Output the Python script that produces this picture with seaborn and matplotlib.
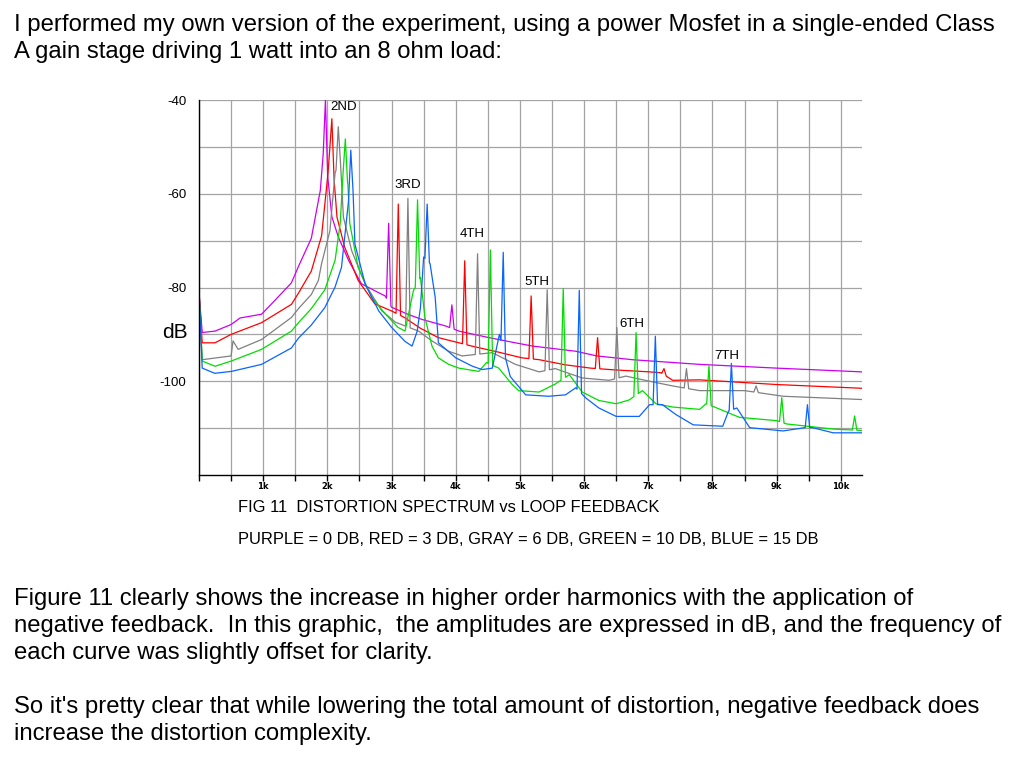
import numpy as np
import pandas as pd
import seaborn as sns
import matplotlib.pyplot as plt

# curves, in drawing order (0 dB feedback first, 15 dB last)
curve_names = ['PURPLE', 'RED', 'GRAY', 'GREEN', 'BLUE']
curve_colors = ['#cc00f0', '#ff0000', '#808080', '#00dd00', '#0a64ff']

# noise floor / skirt points (Hz, dB)
purple_floor_f = [0, 50, 250, 500, 640, 975, 1200, 1440, 1550, 1750, 1890, 1940,
                  2000, 2070, 2170, 2330, 2530, 2740, 2900, 3000, 3270, 3470, 3840,
                  4050, 4520, 4930, 5200, 5870, 6200, 6750, 7800, 9000, 10330]
purple_floor_db = [-81, -89.6, -89.3, -87.9, -86.5, -85.7, -82.5, -79.0, -75.5, -69.5, -59.3, -50.7,
                   -55.6, -64.9, -69.2, -74.2, -79.2, -80.7, -81.8, -84.2, -85.8, -86.8, -88.2,
                   -89.3, -90.7, -91.8, -92.5, -93.6, -94.6, -95.4, -96.4, -97.2, -98.0]
purple_peak_f = [1970, 2955, 3940]
purple_peak_db = [-40, -66.3, -83.7]

red_floor_f = [0, 50, 250, 500, 975, 1440, 1550, 1750, 1910, 2010, 2040,
               2090, 2150, 2270, 2480, 2740, 3000, 3200, 3450, 3730, 4050,
               4250, 4670, 5030, 5300, 5710, 6100, 6500, 7020, 7200, 7380,
               7800, 9000, 10330]
red_floor_db = [-81, -91.8, -91.8, -90.0, -87.5, -83.6, -81.2, -76.5, -69.0, -55.6, -50.0,
                -54.3, -65.0, -71.4, -78.5, -83.5, -85.0, -86.4, -88.7, -90.7, -91.8,
                -92.5, -93.8, -95.0, -95.4, -96.5, -97.2, -97.6, -98.0, -98.2, -99.8,
                -99.7, -100.7, -101.5]
red_peak_f = [2070, 3105, 4140, 5175, 6210, 7245]
red_peak_db = [-44, -62.2, -74.3, -81.8, -90.7, -97.3]

gray_floor_f = [0, 50, 500, 530, 610, 975, 1440, 1550, 1750, 1860, 1910, 2040, 2120,
                2200, 2250, 2380, 2590, 2850, 3060, 3420, 3630, 3890, 4100,
                4570, 4930, 5300, 5550, 5970, 6390, 6650, 7020, 7380,
                7800, 8500, 9100, 10330]
gray_floor_db = [-81, -95.4, -94.6, -91.4, -93.2, -91.1, -86.4, -84.5, -81.5, -78.5, -74.9, -67.9, -55.6,
                 -52.2, -65.0, -72.2, -79.3, -85.0, -87.4, -89.3, -91.4, -93.6, -94.6,
                 -93.9, -96.4, -98.0, -97.3, -99.3, -99.8, -98.9, -100.0, -101.0,
                 -102.0, -102.0, -103.2, -103.9]
gray_peak_f = [2170, 3255, 4340, 5425, 6510, 7595, 8680]
gray_peak_db = [-45.7, -61.0, -72.8, -80.5, -88.5, -97.3, -101.0]

green_floor_f = [0, 50, 250, 500, 975, 1440, 1550, 1750, 1960, 2120, 2200, 2250,
                 2320, 2350, 2480, 2690, 2900, 3100, 3210, 3340, 3450, 3520, 3630,
                 3730, 3890, 4050, 4360, 4480, 4670, 4880, 4980, 5300, 5550, 5770,
                 5970, 6230, 6500, 6700, 6910, 7120, 7380, 7800, 7900, 8050, 8420,
                 9000, 9150, 9880, 10330]
green_floor_db = [-81, -95.7, -96.8, -95.7, -93.2, -89.3, -87.5, -84.5, -80.5, -74.2, -66.3, -54.3,
                  -58.0, -66.4, -75.7, -82.1, -85.6, -88.5, -89.3, -80.7, -77.9, -86.4, -92.5,
                  -95.0, -96.4, -97.2, -97.9, -96.0, -97.2, -100.7, -102.0, -102.3, -100.6, -98.6,
                  -102.3, -104.1, -104.8, -104.0, -102.0, -104.8, -105.5, -106.0, -104.8, -105.6, -107.7,
                  -108.4, -109.1, -110.2, -110.5]
green_peak_f = [2280, 3405, 4540, 5675, 6810, 7945, 9080, 10215]
green_peak_db = [-48.3, -61.3, -72.0, -80.2, -89.6, -96.7, -103.5, -107.4]

blue_floor_f = [0, 50, 245, 505, 975, 1440, 1550, 1750, 1960, 2120, 2220, 2330,
                2400, 2430, 2590, 2800, 3000, 3210, 3320, 3400, 3450, 3500,
                3600, 3680, 3730, 4000, 4260, 4410, 4570, 4680, 4850, 5090,
                5450, 5710, 5870, 6030, 6230, 6500, 6860, 7020, 7220, 7430,
                7700, 8160, 8250, 8380, 8580, 9100, 9440, 9560, 9880, 10330]
blue_floor_db = [-81, -97.2, -98.3, -97.9, -96.4, -92.9, -90.8, -88.0, -84.3, -79.9, -75.7, -61.5,
                 -59.4, -70.8, -79.3, -85.0, -88.5, -91.5, -92.5, -89.3, -84.3, -73.5,
                 -74.9, -82.1, -91.8, -95.0, -96.8, -97.5, -97.2, -90.0, -99.0, -102.9,
                 -103.2, -102.9, -101.4, -103.6, -105.7, -107.5, -107.5, -105.0, -105.0, -107.1,
                 -109.3, -109.6, -106.4, -105.7, -109.9, -110.6, -109.9, -109.9, -111.0, -111.0]
blue_peak_f = [2365, 3555, 4740, 5925, 7110, 8295, 9480]
blue_peak_db = [-50.7, -62.2, -72.5, -80.6, -90.4, -96.2, -105.0]

harmonic_labels = ['2ND', '3RD', '4TH', '5TH', '6TH', '7TH']
harmonic_label_f = [2250, 3250, 4250, 5270, 6740, 8220]
harmonic_label_db = [-41.5, -58.2, -68.5, -78.8, -87.8, -94.6]

x_tick_f = [1000, 2000, 3000, 4000, 5000, 6000, 7000, 8000, 9000, 10000]
x_tick_labels = ['1k', '2k', '3k', '4k', '5k', '6k', '7k', '8k', '9k', '10k']
y_tick_db = [-40, -60, -80, -100]

top_text = ["I performed my own version of the experiment, using a power Mosfet in a single-ended Class",
            "A gain stage driving 1 watt into an 8 ohm load:"]
caption_text = ["FIG 11  DISTORTION SPECTRUM vs LOOP FEEDBACK",
                "PURPLE = 0 DB, RED = 3 DB, GRAY = 6 DB, GREEN = 10 DB, BLUE = 15 DB"]
bottom_text = ["Figure 11 clearly shows the increase in higher order harmonics with the application of",
               "negative feedback.  In this graphic,  the amplitudes are expressed in dB, and the frequency of",
               "each curve was slightly offset for clarity.",
               "So it's pretty clear that while lowering the total amount of distortion, negative feedback does",
               "increase the distortion complexity."]


def build_curve(name, floor_f, floor_db, peak_f, peak_db, w=35):
    # narrow spikes sitting on the drawn floor line
    floor_f = np.asarray(floor_f, float)
    floor_db = np.asarray(floor_db, float)
    keep = np.ones(len(floor_f), bool)
    for f in peak_f:
        keep &= np.abs(floor_f - f) >= w
    pts = list(zip(floor_f[keep], floor_db[keep]))
    for f, top in zip(peak_f, peak_db):
        pts.append((f - w, np.interp(f - w, floor_f, floor_db)))
        pts.append((f, top))
        pts.append((f + w, np.interp(f + w, floor_f, floor_db)))
    pts.sort()
    df = pd.DataFrame(pts, columns=['freq', 'db'])
    df['curve'] = name
    return df


curves = pd.concat([
    build_curve('PURPLE', purple_floor_f, purple_floor_db, purple_peak_f, purple_peak_db),
    build_curve('RED', red_floor_f, red_floor_db, red_peak_f, red_peak_db),
    build_curve('GRAY', gray_floor_f, gray_floor_db, gray_peak_f, gray_peak_db),
    build_curve('GREEN', green_floor_f, green_floor_db, green_peak_f, green_peak_db),
    build_curve('BLUE', blue_floor_f, blue_floor_db, blue_peak_f, blue_peak_db),
], ignore_index=True)

sns.set_theme(style='white')
plt.rcParams['font.family'] = ['Liberation Sans', 'DejaVu Sans']
plt.rcParams['text.color'] = 'black'
plt.rcParams['axes.labelcolor'] = 'black'
plt.rcParams['xtick.color'] = 'black'
plt.rcParams['ytick.color'] = 'black'

fig = plt.figure(figsize=(10.2, 7.58), dpi=100)
ax = fig.add_axes([199 / 1020, 1 - 475 / 758, (862 - 199) / 1020, (475 - 100) / 758])

sns.lineplot(data=curves, x='freq', y='db', hue='curve', hue_order=curve_names,
             palette=dict(zip(curve_names, curve_colors)), estimator=None, sort=False,
             legend=False, linewidth=0.9, ax=ax)

ax.set_xlim(0, 10330)
ax.set_ylim(-120, -40)
ax.set_xticks(x_tick_f)
ax.set_xticklabels(x_tick_labels, fontsize=6, fontweight='bold', family='DejaVu Sans')
ax.set_xticks([f for f in range(0, 10500, 500) if f not in x_tick_f], minor=True)
ax.set_yticks(y_tick_db)
ax.set_yticklabels([str(v) for v in y_tick_db], fontsize=9.5)
ax.set_yticks(range(-110, -40, 10), minor=True)
ax.grid(which='both', color='#a4a4a4', linewidth=0.9)
ax.set_axisbelow(True)
ax.tick_params(axis='x', which='both', direction='out', length=4, width=1, pad=1, bottom=True)
ax.tick_params(axis='y', which='both', length=0, pad=9)
ax.set_xlabel('')
ax.set_ylabel('dB', rotation=0, fontsize=15, va='center', ha='center')
ax.yaxis.set_label_coords(-0.036, 0.379)
for s in ['top', 'right']:
    ax.spines[s].set_visible(False)
for s in ['left', 'bottom']:
    ax.spines[s].set_color('black')
    ax.spines[s].set_linewidth(1)

for lab, f, db in zip(harmonic_labels, harmonic_label_f, harmonic_label_db):
    ax.text(f, db, lab, fontsize=9.5, ha='center', va='center')

for i, line in enumerate(top_text):
    fig.text(14 / 1020, 1 - (25 + 27 * i) / 758, line, fontsize=17.2, va='center')
fig.text(238 / 1020, 1 - 508 / 758, caption_text[0], fontsize=11.9, va='center')
fig.text(238 / 1020, 1 - 540 / 758, caption_text[1], fontsize=11.9, va='center')
for i, y in enumerate([599, 626, 653, 707, 734]):
    fig.text(14 / 1020, 1 - y / 758, bottom_text[i], fontsize=17.2, va='center')

fig.savefig('out.png', dpi=100)
